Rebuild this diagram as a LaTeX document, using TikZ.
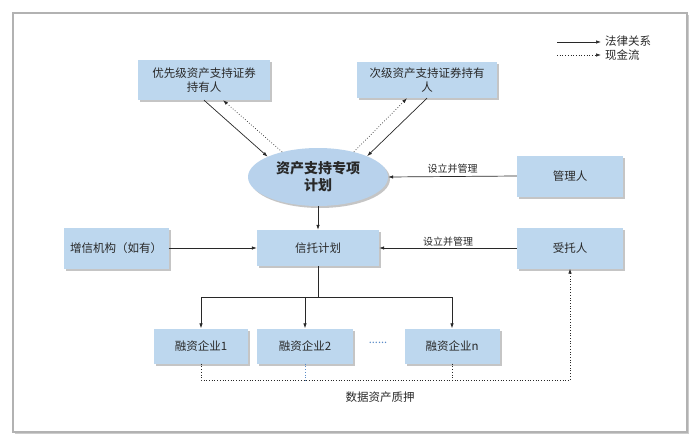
\documentclass[tikz,border=0pt]{standalone}
\usepackage{fontspec}
\setmainfont{Noto Sans CJK SC}
\usetikzlibrary{arrows.meta,shapes.geometric,shadows}

\definecolor{boxblue}{RGB}{189,215,238}
\definecolor{ellblue}{RGB}{184,210,236}
\definecolor{inkgray}{RGB}{40,40,40}
\definecolor{cashblue}{RGB}{90,140,200}

\tikzset{
  box/.style={rectangle, fill=boxblue, inner sep=0pt, align=center,
    font=\fontsize{11.5}{14}\selectfont, text=inkgray,
    drop shadow={shadow xshift=2pt, shadow yshift=-2pt, opacity=0.45}},
  legal/.style={draw=inkgray, line width=0.7pt, -{Latex[length=5pt,width=3.5pt]}},
  cash/.style={draw=inkgray, line width=0.7pt, dotted, -{Latex[length=5pt,width=3.5pt]}},
  lbl/.style={font=\fontsize{10}{12}\selectfont, text=inkgray, inner sep=1pt}
}

\begin{document}
\begin{tikzpicture}[x=1pt,y=-1pt]
	\useasboundingbox (0,0) rectangle (700,441);
	% outer frame
	\draw[gray!60, line width=2pt, fill=white,
	  drop shadow={shadow xshift=2pt, shadow yshift=-2pt, opacity=0.4}] (13,13) rectangle (687,432);

	% legend
	\coordinate (lg1a) at (557,42);
	\coordinate (lg1b) at (601,42);
	\coordinate (lg2a) at (557,55);
	\coordinate (lg2b) at (601,55);
	\draw[legal] (lg1a) -- (lg1b);
	\draw[cash] (lg2a) -- (lg2b);
	\node[lbl, anchor=west, font=\fontsize{11.5}{13}\selectfont] (lgt1) at (604,41) {法律关系};
	\node[lbl, anchor=west, font=\fontsize{11.5}{13}\selectfont] (lgt2) at (604,55) {现金流};

	% nodes
	\node[box, minimum width=132, minimum height=40] (senior) at (204,80) {优先级资产支持证券\\持有人};
	\node[box, minimum width=140, minimum height=36] (junior) at (427,80) {次级资产支持证券持有\\人};
	\node[ellipse, fill=ellblue, minimum width=140, minimum height=58, inner sep=0pt, align=center,
	  font=\fontsize{14}{17}\selectfont\bfseries, text=inkgray,
	  drop shadow={shadow xshift=2pt, shadow yshift=-2pt, opacity=0.45}] (plan) at (318,177) {资产支持专项\\计划};
	\node[box, minimum width=106, minimum height=41] (manager) at (570,176) {管理人};
	\node[box, minimum width=122, minimum height=36] (trust) at (318,248) {信托计划};
	\node[box, minimum width=105, minimum height=41] (credit) at (116,248) {增信机构（如有）};
	\node[box, minimum width=106, minimum height=41] (trustee) at (570,248) {受托人};
	\node[box, minimum width=94, minimum height=35] (firm1) at (201,346) {融资企业1};
	\node[box, minimum width=96, minimum height=35] (firm2) at (305,346) {融资企业2};
	\node[box, minimum width=95, minimum height=35] (firmn) at (452,346) {融资企业n};
	\node[text=cashblue, font=\fontsize{11}{12}\selectfont] (dots) at (378,343) {......};

	% holders <-> plan
	\draw[legal] (senior.south) -- (plan.158);
	\draw[cash] (plan.145) -- ([xshift=19pt]senior.south);
	\draw[legal] (junior.south) -- (plan.23);
	\draw[cash] (plan.35) -- ([xshift=-20pt]junior.south);

	% management
	\draw[legal] (manager.west) -- (plan.east) node[lbl, midway, above=2pt] (setup1) {设立并管理};
	\draw[legal] (trustee.west) -- (trust.east) node[lbl, midway, above=0pt] (setup2) {设立并管理};
	\draw[legal] (credit.east) -- (trust.west);
	\draw[legal] (plan.south) -- (trust.north);

	% trust -> firms
	\coordinate (branch) at (318,297);
	\draw[inkgray, line width=0.7pt] (trust.south) -- (branch);
	\draw[legal] (branch) -| (firm1.north);
	\draw[legal] (branch) -| (firmn.north);
	\draw[legal] (firm2.north |- branch) -- (firm2.north);

	% pledge
	\coordinate (pledge) at (201,380);
	\draw[cash] (firm1.south) -- (pledge) -| (trustee.south);
	\draw[cashblue, line width=0.7pt, dotted] (firm2.south) -- (firm2.south |- pledge);
	\draw[inkgray, line width=0.7pt, dotted] (firmn.south) -- (firmn.south |- pledge);
	\node[lbl, font=\fontsize{11.5}{13}\selectfont] (pledgetext) at (380,397) {数据资产质押};
\end{tikzpicture}
\end{document}
